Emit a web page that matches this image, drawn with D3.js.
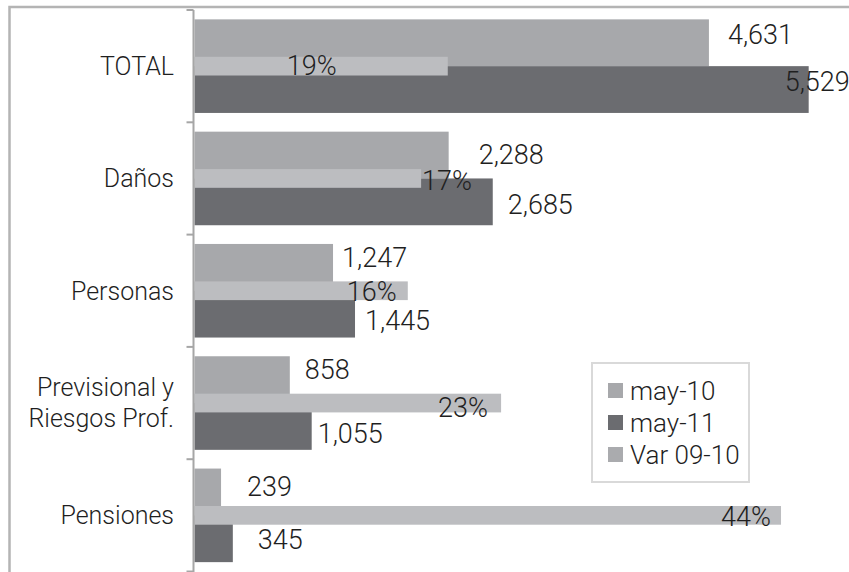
<!DOCTYPE html>
<html>
<head>
<meta charset="utf-8">
<script src="https://cdn.jsdelivr.net/npm/d3@7"></script>
<style>
  html, body { margin: 0; padding: 0; background: #fff; }
  svg { display: block; }
  text { font-family: Roboto, "Liberation Sans", Arial, sans-serif; font-weight: 300; fill: #1f1f1f; }
</style>
</head>
<body>
<svg id="chart" width="849" height="572"></svg>
<script>
// Primas emitidas por ramo (may-10 vs may-11) y variación porcentual
const categories = ["TOTAL", "Daños", "Personas", "Previsional y\nRiesgos Prof.", "Pensiones"];
const may10 = [4631, 2288, 1247, 858, 239];
const may11 = [5529, 2685, 1445, 1055, 345];
const varPct = [0.19, 0.17, 0.16, 0.23, 0.44];
const seriesNames = ["may-10", "may-11", "Var 09-10"];
const valueTicks = [0, 1000, 2000, 3000, 4000, 5000, 6000];
const pctTicks = [0, 0.1, 0.2, 0.3, 0.4, 0.5];

// Hand-placed label nudges (pixels, relative to the default placement)
const nudge10 = [[19, -8], [30, -1], [9, -10], [15, -10], [26, -6]];
const nudge11 = [[-24, -8], [15, 2], [10, 6], [6, 7], [25, 1]];
const nudgeVar = [[-161, -1], [1, 2], [-61, 1], [-63, 4], [-60, 1]];

const colors = { may10: "#a7a8ab", may11: "#6b6c70", pct: "#bcbdc0", legendPct: "#aaabae" };

const svg = d3.select("#chart");
const plot = { left: 194.5, top: 10, right: 861, bottom: 571.5 };

// Chart frame
svg.append("rect")
  .attr("x", 9.5).attr("y", 7)
  .attr("width", 900).attr("height", 700)
  .attr("fill", "#fff").attr("stroke", "#b4b4b4").attr("stroke-width", 2.5);

const y = d3.scaleBand().domain(categories).range([plot.top, plot.bottom]).paddingInner(0).paddingOuter(0);
const bw = y.bandwidth();
const ySeries = d3.scaleBand().domain(["may10", "may11"]).range([0, bw]).paddingInner(0).paddingOuter(0.2);
const yPct = d3.scaleBand().domain(["pct"]).range([0, bw]).paddingOuter(2.5);

const x = d3.scaleLinear().domain([valueTicks[0], valueTicks[valueTicks.length - 1]]).range([plot.left, plot.right]);
const xPct = d3.scaleLinear().domain([pctTicks[0], pctTicks[pctTicks.length - 1]]).range([plot.left, plot.right]);

const rows = categories.map((c, i) => ({ c, i, a: may10[i], b: may11[i], p: varPct[i] }));

// may-10 bars
svg.append("g").selectAll("rect").data(rows).join("rect")
  .attr("x", x(0))
  .attr("y", d => y(d.c) + ySeries("may10"))
  .attr("width", d => x(d.a) - x(0))
  .attr("height", ySeries.bandwidth())
  .attr("fill", colors.may10);

// may-11 bars
svg.append("g").selectAll("rect").data(rows).join("rect")
  .attr("x", x(0))
  .attr("y", d => y(d.c) + ySeries("may11"))
  .attr("width", d => x(d.b) - x(0))
  .attr("height", ySeries.bandwidth())
  .attr("fill", colors.may11);

// Variation bars (secondary axis, drawn on top)
svg.append("g").selectAll("rect").data(rows).join("rect")
  .attr("x", xPct(0))
  .attr("y", d => y(d.c) + yPct("pct"))
  .attr("width", d => xPct(d.p) - xPct(0))
  .attr("height", yPct.bandwidth())
  .attr("fill", colors.pct);

// Category axis line and boundary ticks
const axisG = svg.append("g").attr("stroke", "#a6a6a6").attr("stroke-width", 2);
axisG.append("line").attr("x1", plot.left - 1).attr("x2", plot.left - 1)
  .attr("y1", plot.top).attr("y2", plot.bottom + 5);
const boundaries = categories.map(c => y(c)).concat([y.range()[1]]);
axisG.selectAll("line.tick").data(boundaries).join("line").attr("class", "tick")
  .attr("x1", plot.left - 8).attr("x2", plot.left - 1)
  .attr("y1", d => d).attr("y2", d => d);

// Category labels
const fmt = d3.format(",");
const catG = svg.append("g");
rows.forEach(d => {
  const lines = d.c.split("\n");
  const cy = y(d.c) + bw / 2;
  const lh = 31;
  lines.forEach((ln, k) => {
    catG.append("text")
      .attr("x", 174)
      .attr("y", cy + (k - (lines.length - 1) / 2) * lh)
      .attr("dy", "0.35em")
      .attr("text-anchor", "end")
      .style("font-size", "25px")
      .text(ln);
  });
});

// Value labels
const labG = svg.append("g").style("font-size", "27px");
labG.selectAll("text.l10").data(rows).join("text").attr("class", "l10")
  .attr("x", d => x(d.a) + nudge10[d.i][0])
  .attr("y", d => y(d.c) + ySeries("may10") + ySeries.bandwidth() / 2 + nudge10[d.i][1])
  .attr("dy", "0.36em")
  .text(d => fmt(d.a));
labG.selectAll("text.l11").data(rows).join("text").attr("class", "l11")
  .attr("x", d => x(d.b) + nudge11[d.i][0])
  .attr("y", d => y(d.c) + ySeries("may11") + ySeries.bandwidth() / 2 + nudge11[d.i][1])
  .attr("dy", "0.36em")
  .text(d => fmt(d.b));
labG.selectAll("text.lp").data(rows).join("text").attr("class", "lp")
  .attr("x", d => xPct(d.p) + nudgeVar[d.i][0])
  .attr("y", d => y(d.c) + bw / 2 + nudgeVar[d.i][1])
  .attr("dy", "0.36em")
  .text(d => d3.format(".0%")(d.p));

// Legend
const lg = svg.append("g").attr("transform", "translate(592,363)");
lg.append("rect").attr("width", 157).attr("height", 119)
  .attr("fill", "#fff").attr("stroke", "#d9d9d9").attr("stroke-width", 2);
const legendColors = [colors.may10, colors.may11, colors.legendPct];
seriesNames.forEach((name, k) => {
  const cy = 27.5 + k * 32;
  lg.append("rect").attr("x", 16).attr("y", cy - 7.5).attr("width", 15).attr("height", 15)
    .attr("fill", legendColors[k]);
  lg.append("text").attr("x", 38).attr("y", cy).attr("dy", "0.36em")
    .style("font-size", "26px").text(name);
});
</script>
</body>
</html>
